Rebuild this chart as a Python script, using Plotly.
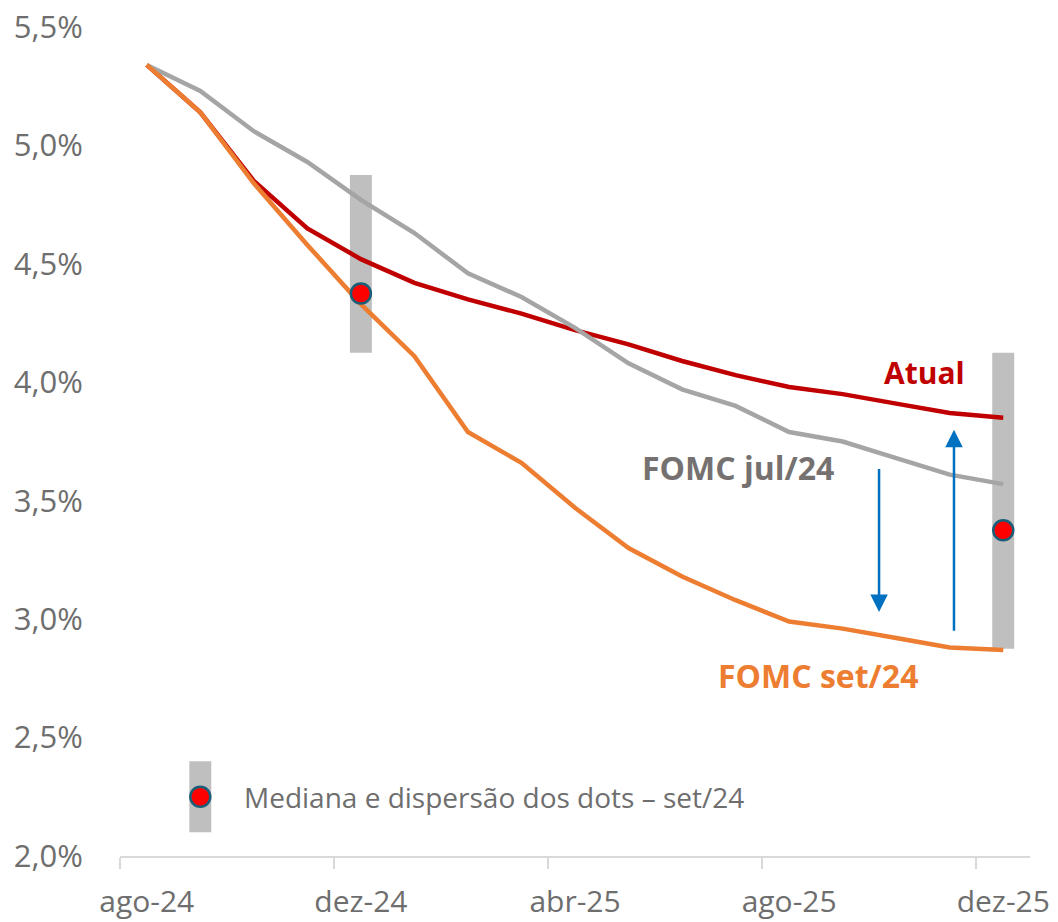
import plotly.graph_objects as go

months = ["ago-24", "set-24", "out-24", "nov-24", "dez-24", "jan-25", "fev-25", "mar-25",
          "abr-25", "mai-25", "jun-25", "jul-25", "ago-25", "set-25", "out-25", "nov-25", "dez-25"]
tick_labels = ["ago-24", "dez-24", "abr-25", "ago-25", "dez-25"]
y_ticks = [2.0, 2.5, 3.0, 3.5, 4.0, 4.5, 5.0, 5.5]
y_tick_labels = ["2,0%", "2,5%", "3,0%", "3,5%", "4,0%", "4,5%", "5,0%", "5,5%"]

atual = [5.34, 5.14, 4.85, 4.65, 4.52, 4.42, 4.35, 4.29, 4.22, 4.16, 4.09, 4.03, 3.98, 3.95, 3.91, 3.87, 3.85]
fomc_jul = [5.34, 5.23, 5.06, 4.93, 4.77, 4.63, 4.46, 4.36, 4.23, 4.08, 3.97, 3.90, 3.79, 3.75, 3.68, 3.61, 3.57]
fomc_set = [5.34, 5.14, 4.84, 4.58, 4.33, 4.11, 3.79, 3.66, 3.47, 3.30, 3.18, 3.08, 2.99, 2.96, 2.92, 2.88, 2.87]

dots_months = ["dez-24", "dez-25"]
dots_median = [4.375, 3.375]
dots_low = [4.125, 2.875]
dots_high = [4.875, 4.125]

legend_text = "Mediana e dispersão dos dots – set/24"

C_RED = "#C00000"
C_GRAY = "#A5A5A5"
C_ORANGE = "#ED7D31"
C_BAR = "#BFBFBF"
C_TEXT = "#6E6E6E"
C_LABEL_GRAY = "#767171"
C_BLUE = "#0070C0"
FONT = "Open Sans"

xi = list(range(len(months)))
dot_x = [months.index(m) for m in dots_months]

fig = go.Figure()

# dispersion bars
fig.add_trace(go.Bar(x=dot_x, y=[h - l for h, l in zip(dots_high, dots_low)], base=dots_low,
                     width=0.41, marker=dict(color=C_BAR, line=dict(width=0)), showlegend=False,
                     hoverinfo="skip"))
# legend sample bar (placed near sep-24)
leg_x = 1
leg_low, leg_high, leg_mid = 2.10, 2.40, 2.25
fig.add_trace(go.Bar(x=[leg_x], y=[leg_high - leg_low], base=[leg_low], width=0.41,
                     marker=dict(color=C_BAR, line=dict(width=0)), showlegend=False, hoverinfo="skip"))

fig.add_trace(go.Scatter(x=xi, y=atual, mode="lines", line=dict(color=C_RED, width=4.5), name="Atual"))
fig.add_trace(go.Scatter(x=xi, y=fomc_jul, mode="lines", line=dict(color=C_GRAY, width=4.5), name="FOMC jul/24"))
fig.add_trace(go.Scatter(x=xi, y=fomc_set, mode="lines", line=dict(color=C_ORANGE, width=4.5), name="FOMC set/24"))

fig.add_trace(go.Scatter(x=dot_x + [leg_x], y=dots_median + [leg_mid], mode="markers",
                         marker=dict(color="#FF0000", size=20, line=dict(color="#1B5E78", width=2.5)),
                         showlegend=False))

annotations = [
    dict(x=14.53, y=4.04, text="<b>Atual</b>", font=dict(color=C_RED, size=30, family=FONT),
         showarrow=False, xref="x", yref="y"),
    dict(x=11.04, y=3.64, text="<b>FOMC jul/24</b>", font=dict(color=C_LABEL_GRAY, size=32, family=FONT),
         showarrow=False, xref="x", yref="y"),
    dict(x=12.54, y=2.76, text="<b>FOMC set/24</b>", font=dict(color=C_ORANGE, size=32, family=FONT),
         showarrow=False, xref="x", yref="y"),
    dict(x=leg_x + 0.78, y=leg_mid, text=legend_text, font=dict(color=C_TEXT, size=28, family=FONT),
         showarrow=False, xref="x", yref="y", xanchor="left"),
    # arrows
    dict(x=13.68, y=3.03, ax=13.68, ay=3.64, xref="x", yref="y", axref="x", ayref="y",
         showarrow=True, arrowhead=2, arrowsize=1.4, arrowwidth=2.5, arrowcolor=C_BLUE, text=""),
    dict(x=15.08, y=3.80, ax=15.08, ay=2.945, xref="x", yref="y", axref="x", ayref="y",
         showarrow=True, arrowhead=2, arrowsize=1.4, arrowwidth=2.5, arrowcolor=C_BLUE, text=""),
]

fig.update_layout(
    width=1058, height=922,
    margin=dict(l=120, r=28, t=27, b=66),
    paper_bgcolor="white", plot_bgcolor="white",
    showlegend=False,
    barmode="overlay",
    annotations=annotations,
    font=dict(family=FONT, color=C_TEXT),
)
fig.update_xaxes(
    range=[-0.5, 16.5], tickmode="array", tickvals=[months.index(m) for m in tick_labels],
    ticktext=tick_labels, showgrid=False, zeroline=False, automargin=False,
    showline=True, linecolor="#D9D9D9", linewidth=1.5,
    ticks="outside", ticklen=18, tickcolor="rgba(0,0,0,0)",
    tickfont=dict(size=30, color=C_TEXT, family=FONT),
    minor=dict(tickmode="array", tickvals=[-0.5, 3.5, 7.5, 11.5, 15.5], ticks="outside",
               ticklen=11, tickcolor="#D9D9D9", tickwidth=1.5, showgrid=False),
)
fig.update_yaxes(
    range=[2.0, 5.5], tickmode="array", tickvals=y_ticks, ticktext=y_tick_labels,
    showgrid=False, zeroline=False, showline=False, automargin=False,
    ticks="outside", ticklen=30, tickcolor="rgba(0,0,0,0)",
    tickfont=dict(size=31, color=C_TEXT, family=FONT),
)

fig.write_html("out.html", config={"displayModeBar": False},
               post_script="document.body.style.margin='0';document.body.style.overflow='hidden';")
